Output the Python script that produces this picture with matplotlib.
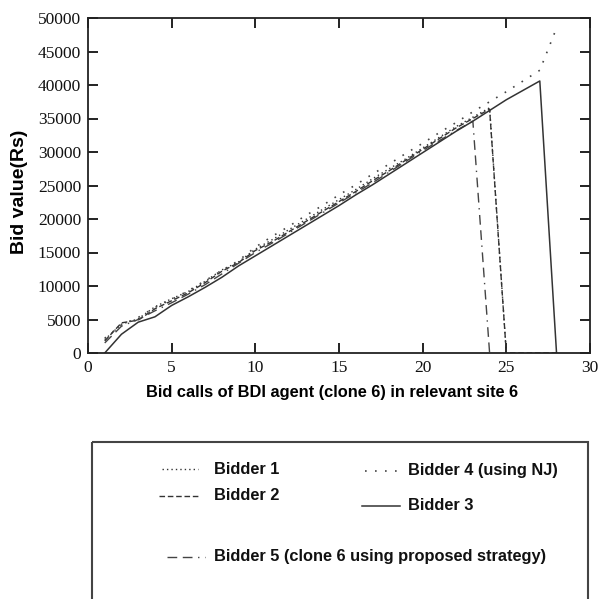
import matplotlib
matplotlib.use("Agg")
import matplotlib.pyplot as plt
from matplotlib.patches import Rectangle
from matplotlib.lines import Line2D

# ---------------- data ----------------
calls = list(range(1, 29))

bidder1 = [2000, 4300, 5100, 6900, 8100, 9200, 10700, 12400, 13600, 15500,
           16900, 18400, 19900, 21400, 22900, 24400, 26000, 27500, 29000, 30600,
           32200, 33800, 35200, 36600, 0]
bidder2 = [1800, 4500, 4900, 6600, 7800, 9000, 10500, 12200, 13500, 15300,
           16600, 18100, 19600, 21100, 22600, 24100, 25700, 27200, 28800, 30400,
           32000, 33600, 35000, 36400, 0, 0, 0, 0]
bidder3 = [0, 2800, 4600, 5400, 7100, 8400, 9800, 11300, 13000, 14500,
           16000, 17500, 19000, 20500, 22000, 23600, 25100, 26700, 28300, 29900,
           31500, 33100, 34600, 36200, 37800, 39200, 40600, 0]
bidder4 = [2200, 4200, 5300, 6800, 8000, 9300, 10800, 12300, 13800, 15800,
           17400, 18900, 20500, 22000, 23600, 25100, 26700, 28200, 29800, 31300,
           32900, 34400, 36000, 37500, 39000, 40600, 42200, 48500]
bidder5 = [1500, 4000, 5000, 6300, 7500, 8800, 10200, 11800, 13400, 15000,
           16400, 17900, 19400, 20900, 22400, 23900, 25400, 27000, 28600, 30200,
           31700, 33200, 34600, 0]

labels = ["Bidder 1", "Bidder 2", "Bidder 3", "Bidder 4 (using NJ)",
          "Bidder 5 (clone 6 using proposed strategy)"]
xticks = [0, 5, 10, 15, 20, 25, 30]
yticks = list(range(0, 50001, 5000))

# ---------------- styles ----------------
sans_bold = ["Liberation Sans", "DejaVu Sans"]
serif = ["Liberation Serif", "DejaVu Serif"]
styles = {
    "Bidder 1": dict(ls=(0, (1, 2.2)), color="#333333", lw=1.0),
    "Bidder 2": dict(ls=(0, (4, 2)), color="#333333", lw=1.0),
    "Bidder 3": dict(ls="-", color="#333333", lw=1.1),
    "Bidder 4 (using NJ)": dict(ls=(0, (1, 5)), color="#444444", lw=1.2),
    "Bidder 5 (clone 6 using proposed strategy)": dict(ls=(0, (7, 4, 7, 4, 1, 4)), color="#444444", lw=1.0),
}

W, H = 601, 599
fig = plt.figure(figsize=(W / 100, H / 100), dpi=100)
ax = fig.add_axes([88 / W, 1 - 353 / H, (590 - 88) / W, (353 - 18) / H])

series = [
    ("Bidder 1", bidder1),
    ("Bidder 2", bidder2),
    ("Bidder 4 (using NJ)", bidder4),
    ("Bidder 5 (clone 6 using proposed strategy)", bidder5),
    ("Bidder 3", bidder3),
]
for name, vals in series:
    ax.plot(calls[:len(vals)], vals, **styles[name])

ax.set_xlim(0, 30)
ax.set_ylim(0, 50000)
ax.set_xticks(xticks)
ax.set_yticks(yticks)
ax.set_xticklabels([str(t) for t in xticks], fontfamily=serif, fontsize=12.5)
ax.set_yticklabels([str(t) for t in yticks], fontfamily=serif, fontsize=12.5)
ax.tick_params(direction="in", length=7, width=1.3, top=True, right=True,
               colors="#111111", pad=5)
for s in ax.spines.values():
    s.set_linewidth(1.3)
    s.set_color("#222222")

ax.set_xlabel("Bid calls of BDI agent (clone 6) in relevant site 6",
              fontfamily=sans_bold, fontweight="bold", fontsize=11.8)
ax.xaxis.set_label_coords(0.486, -0.095)
ax.set_ylabel("Bid value(Rs)", fontfamily=sans_bold, fontweight="bold", fontsize=14)
ax.yaxis.set_label_coords(-0.12, 0.48)

# ---------------- legend box ----------------
lg = fig.add_axes([0, 0, 1, 1])
lg.set_xlim(0, W)
lg.set_ylim(H, 0)
lg.axis("off")
lg.add_patch(Rectangle((92, 442), 588 - 92, 200, fill=False, lw=1.5,
                       edgecolor="#444444", clip_on=False))

entries = [
    ("Bidder 1", 162, 198, 214, 469),
    ("Bidder 2", 159, 198, 214, 496),
    ("Bidder 5 (clone 6 using proposed strategy)", 167, 205, 214, 557),
    ("Bidder 4 (using NJ)", 365, 400, 408, 471),
    ("Bidder 3", 362, 400, 408, 506),
]
for name, x0, x1, tx, ty in entries:
    lg.add_line(Line2D([x0, x1], [ty, ty], **styles[name]))
    lg.text(tx, ty, name, fontfamily=sans_bold, fontweight="bold",
            fontsize=11.8, va="center", ha="left", color="#111111")

fig.savefig("out.png", dpi=100)
